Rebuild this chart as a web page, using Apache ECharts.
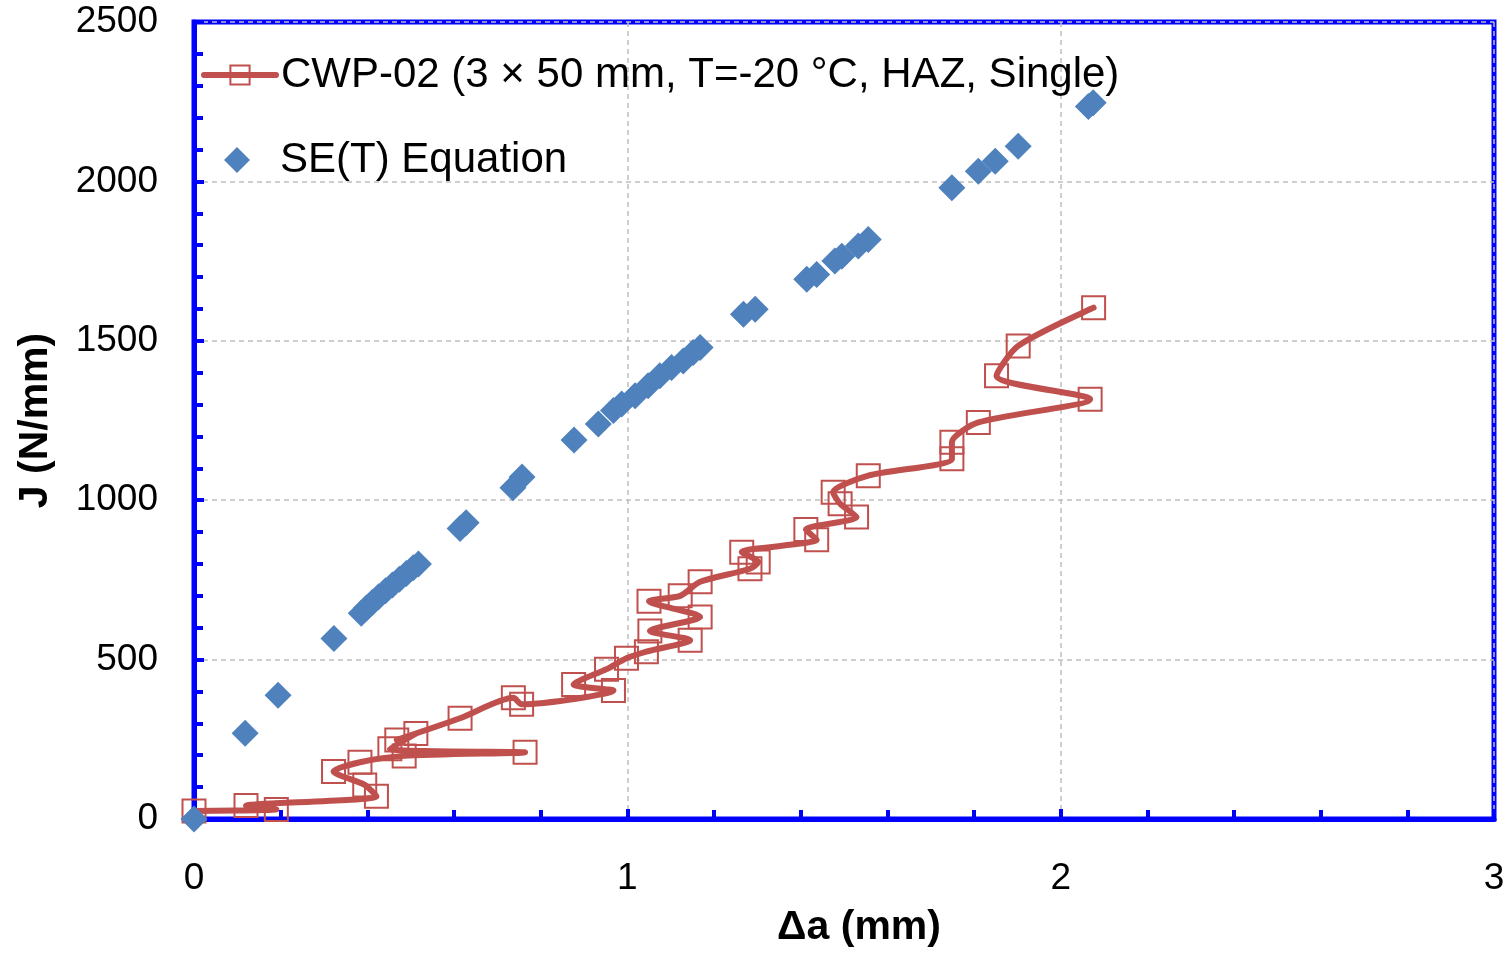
<!DOCTYPE html>
<html>
<head>
<meta charset="utf-8">
<script src="https://cdn.jsdelivr.net/npm/echarts@6/dist/echarts.min.js"></script>
<style>
html,body{margin:0;padding:0;background:#fff;}
#chart{width:1511px;height:953px;}
</style>
</head>
<body>
<div id="chart"></div>
<script>
// CWP-02 test data (crack extension Δa in mm, J in N/mm), in plotted order
const cwpX = [0.0, 0.19, 0.12, 0.421, 0.394, 0.322, 0.383, 0.485, 0.764, 0.452, 0.512, 0.468, 0.614, 0.737, 0.756, 0.968, 0.876, 0.952, 0.998, 1.044, 1.145, 1.052, 1.168, 1.05, 1.122, 1.168, 1.283, 1.302, 1.264, 1.437, 1.412, 1.529, 1.491, 1.475, 1.556, 1.749, 1.749, 1.81, 2.068, 1.852, 1.902, 2.076];
const cwpJ = [25, 30, 42, 71, 107, 149, 178, 198, 209, 220, 268, 248, 316, 380, 360, 403, 422, 470, 504, 525, 561, 590, 634, 683, 700, 744, 785, 806, 837, 876, 908, 947, 989, 1025, 1077, 1130, 1182, 1244, 1317, 1390, 1484, 1604];

// SE(T) equation points
const setX = [0.0, 0.118, 0.194, 0.323, 0.386, 0.398, 0.412, 0.426, 0.442, 0.458, 0.474, 0.49, 0.506, 0.518, 0.614, 0.628, 0.736, 0.757, 0.877, 0.933, 0.968, 0.987, 1.018, 1.048, 1.075, 1.102, 1.129, 1.152, 1.168, 1.268, 1.295, 1.414, 1.437, 1.479, 1.495, 1.533, 1.556, 1.749, 1.81, 1.849, 1.902, 2.064, 2.075];
const setJ = [0, 269, 388, 566, 645, 662, 680, 697, 716, 734, 752, 770, 788, 800, 911, 929, 1039, 1073, 1189, 1239, 1281, 1302, 1328, 1359, 1390, 1416, 1437, 1463, 1479, 1583, 1599, 1693, 1708, 1750, 1765, 1797, 1818, 1980, 2032, 2063, 2110, 2235, 2247];

const seriesNames = ['CWP-02 (3 \u00d7 50 mm, T=-20 \u00b0C, HAZ, Single)', 'SE(T) Equation'];
const xName = '\u0394a (mm)';
const yName = 'J (N/mm)';

const FONT = '"Liberation Sans", Arial, sans-serif';
const BLUE = '#0000FF';
const RED = '#C0504D';
const STEEL = '#4F81BD';

const chart = echarts.init(document.getElementById('chart'), null, {renderer: 'canvas'});

function axisCommon() {
  return {
    type: 'value',
    axisLine: {show: true, onZero: false, lineStyle: {color: BLUE, width: 5}},
    axisTick: {show: true, inside: true, length: 10, lineStyle: {color: BLUE, width: 4}},
    minorTick: {show: true, splitNumber: 5, length: 9, lineStyle: {color: BLUE, width: 4}},
    splitLine: {show: true, lineStyle: {color: '#BFBFBF', width: 1.5, type: [5, 4]}},
    minorSplitLine: {show: false}
  };
}

const legendText = {fontFamily: FONT, fontSize: 42, color: '#000'};

const option = {
  backgroundColor: '#fff',
  animation: false,
  grid: {
    left: 194, right: 17, top: 22, bottom: 132,
    show: true, borderColor: BLUE, borderWidth: 5, backgroundColor: 'transparent'
  },
  legend: [
    {
      left: 196, top: 49,
      itemWidth: 72, itemHeight: 24,
      textStyle: legendText,
      data: [{name: seriesNames[0], lineStyle: {width: 6, color: RED}}]
    },
    {
      left: 219, top: 134,
      itemWidth: 26, itemHeight: 26,
      textStyle: Object.assign({}, legendText, {padding: [0, 0, 0, 25]}),
      data: [{name: seriesNames[1], icon: 'diamond'}]
    }
  ],
  xAxis: Object.assign(axisCommon(), {
    min: 0, max: 3, interval: 1,
    name: xName, nameLocation: 'middle', nameGap: 88,
    nameTextStyle: {fontFamily: FONT, fontSize: 41, fontWeight: 'bold', color: '#000', padding: [0, 0, 0, 30]},
    axisLabel: {fontFamily: FONT, fontSize: 37, color: '#000', margin: 41, formatter: v => String(v)}
  }),
  yAxis: Object.assign(axisCommon(), {
    min: 0, max: 2500, interval: 500,
    name: yName, nameLocation: 'middle', nameGap: 138,
    nameTextStyle: {fontFamily: FONT, fontSize: 41, fontWeight: 'bold', color: '#000'},
    axisLabel: {fontFamily: FONT, fontSize: 37, color: '#000', margin: 36, formatter: v => String(v)}
  }),
  series: [
    {
      name: seriesNames[0],
      type: 'line',
      data: cwpX.map((x, i) => [x, cwpJ[i]]),
      smooth: 0.25,
      symbol: 'rect',
      symbolSize: 23,
      showAllSymbol: true,
      lineStyle: {color: RED, width: 6, cap: 'round', join: 'round'},
      itemStyle: {color: 'rgba(255,255,255,0)', borderColor: RED, borderWidth: 2},
      z: 2
    },
    {
      name: seriesNames[1],
      type: 'scatter',
      data: setX.map((x, i) => [x, setJ[i]]),
      symbol: 'diamond',
      symbolSize: 27,
      itemStyle: {color: STEEL, opacity: 1},
      z: 3
    }
  ]
};
chart.setOption(option);
</script>
</body>
</html>
